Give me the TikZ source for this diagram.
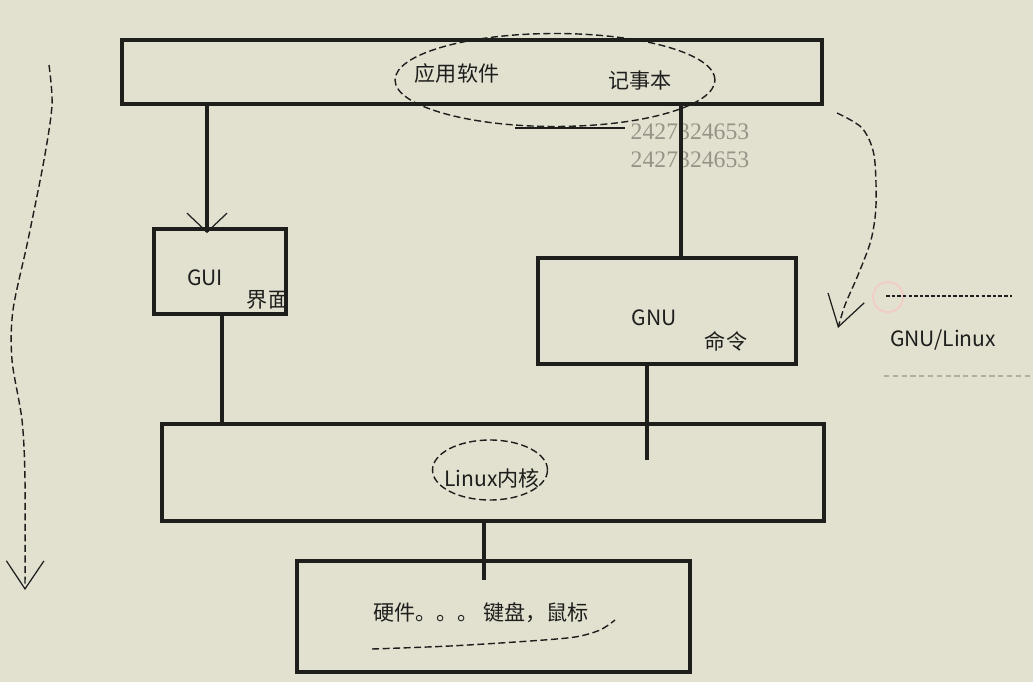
\documentclass[tikz,border=0pt]{standalone}
\usepackage{fontspec}
\setmainfont{Noto Sans CJK SC}
\newfontfamily\wmfont{Liberation Serif}
\usetikzlibrary{arrows.meta,positioning,calc}
\definecolor{screen}{RGB}{226,224,207}
\definecolor{ink}{RGB}{30,30,28}
\definecolor{wmgray}{RGB}{150,148,135}
\tikzset{>=latex}

\begin{document}
\begin{tikzpicture}[x=0.02cm,y=-0.02cm,
		box/.style={draw=ink,line width=2.6pt,inner sep=0pt},
		link/.style={draw=ink,line width=2.2pt},
		lbl/.style={text=ink,inner sep=0pt,font=\fontsize{12}{14}\selectfont},
		handdash/.style={draw=ink,line width=0.8pt,dash pattern=on 4pt off 2pt},
		barb/.style={-{Straight Barb[length=#1,width=0.75cm,line width=0.7pt]}}]
		\fill[screen] (0,0) rectangle (1033,682);
		\useasboundingbox (0,0) rectangle (1033,682);

		\node[box,minimum width=14cm,minimum height=1.28cm]    (app)    at (472,72)    {};
		\node[box,minimum width=2.64cm,minimum height=1.7cm]   (gui)    at (220,271.5) {};
		\node[box,minimum width=5.16cm,minimum height=2.12cm]  (gnu)    at (667,311)   {};
		\node[box,minimum width=13.24cm,minimum height=1.94cm] (kernel) at (493,472.5) {};
		\node[box,minimum width=7.86cm,minimum height=2.22cm]  (hw)     at (493.5,616.5) {};

		\node[lbl] (apptext)  at (457,73)  {应用软件};
		\node[lbl] (notepad)  at (640,81)  {记事本};
		\node[lbl] (guitext)  at (205,278) {GUI};
		\node[lbl] (guicn)    at (268,300) {界面};
		\node[lbl] (gnutext)  at (654,318) {GNU};
		\node[lbl] (gnucn)    at (726,341) {命令};
		\node[lbl] (kerntext) at (492,478) {Linux内核};
		\node[lbl] (hwtext)   at (481,613) {硬件。。。 键盘，鼠标};
		\node[lbl] (gnulinux) at (943,340) {GNU/Linux};
		\node[text=wmgray,inner sep=0pt,font=\wmfont\fontsize{13.5}{14}\selectfont] (wm1) at (690,132) {2427324653};
		\node[text=wmgray,inner sep=0pt,font=\wmfont\fontsize{13.5}{14}\selectfont] (wm2) at (690,160) {2427324653};

		\coordinate (guiin)   at (207,233);
		\coordinate (gnuin)   at (681,258);
		\coordinate (guiout)  at (222,314);
		\coordinate (gnuend)  at (647,460);
		\coordinate (hwend)   at (484,580);

		\draw[link,-{Straight Barb[length=0.38cm,width=0.8cm,line width=0.7pt]}] (app.south -| guiin) -- (guiin);
		\draw[link] (app.south -| gnuin) -- (gnu.north -| gnuin);
		\draw[link] (guiout) -- (kernel.north -| guiout);
		\draw[link] (gnu.south -| gnuend) -- (gnuend);
		\draw[link] (kernel.south -| hwend) -- (hwend);

		\coordinate (appoval)  at (555,80);
		\coordinate (kernoval) at (490,470);
		\draw[handdash] (appoval) ellipse [x radius=3.2cm, y radius=0.93cm];
		\draw[draw=ink,line width=0.9pt] (515,128) -- (625,128);
		\draw[handdash] (kernoval) ellipse [x radius=1.15cm, y radius=0.6cm];
		\draw[handdash] plot[smooth] coordinates {(372,649) (450,646) (530,641) (575,637) (600,630) (615,620)};

		\draw[handdash,barb=0.56cm] plot[smooth] coordinates {(49,65) (52,105) (44,160) (28,240) (13,310) (12,360) (22,420) (25,480) (25,590)};
		\draw[handdash,barb=0.6cm] plot[smooth] coordinates {(837,113) (862,128) (874,155) (876,205) (871,240) (858,275) (845,305) (838,328)};

		\draw[pink!60!screen,line width=1pt] (888,297) circle [radius=0.3cm];
		\draw[draw=ink,line width=0.8pt,dash pattern=on 2pt off 1.2pt] (886,296) -- (1012,296);
		\draw[ink!25!screen,line width=0.8pt,dash pattern=on 3pt off 2pt] (884,376) -- (1030,376);
	\end{tikzpicture}
\end{document}
